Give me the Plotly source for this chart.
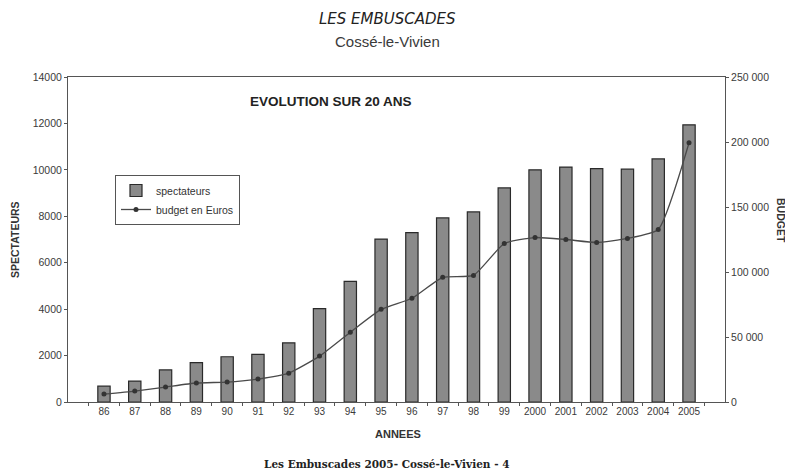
import plotly.graph_objects as go

annees = ["86", "87", "88", "89", "90", "91", "92", "93", "94", "95", "96", "97",
          "98", "99", "2000", "2001", "2002", "2003", "2004", "2005"]
spectateurs = [680, 900, 1380, 1700, 1950, 2050, 2550, 4020, 5200, 7020, 7300, 7930,
               8190, 9220, 10000, 10120, 10050, 10030, 10470, 11940]
budget = [6100, 8400, 11500, 14600, 15300, 17600, 22200, 35300, 53700, 71300, 79800,
          95900, 97400, 121900, 126500, 125000, 122700, 125800, 132700, 199400]

left_ticks = [0, 2000, 4000, 6000, 8000, 10000, 12000, 14000]
left_labels = ["0", "2000", "4000", "6000", "8000", "10000", "12000", "14000"]
right_ticks = [0, 50000, 100000, 150000, 200000, 250000]
right_labels = ["0", "50 000", "100 000", "150 000", "200 000", "250 000"]

SANS = "Liberation Sans, Arial, sans-serif"
axis_font = dict(family=SANS, size=10.5, color="#3a3a3a")

fig = go.Figure()
fig.add_trace(go.Bar(
    x=annees, y=spectateurs, name="spectateurs",
    marker=dict(color="#8a8a8a", line=dict(color="#2a2a2a", width=1.2)),
    yaxis="y",
))
fig.add_trace(go.Scatter(
    x=annees, y=budget, name="budget en Euros", mode="lines+markers",
    line=dict(color="#4a4a4a", width=1.3, shape="spline", smoothing=0.5),
    marker=dict(color="#333333", size=5),
    yaxis="y2",
))

# page body has an 8px margin: work in screen coords and offset
OFF = 8
W, H = 793 - OFF, 469 - OFF
L, T = 68 - OFF, 77 - OFF
R = 793 - 725
B = 469 - 402
PW, PH = W - L - R, H - T - B


def px(x):
    return (x - OFF - L) / PW


def py(y):
    return (H - B - (y - OFF)) / PH


fig.update_layout(
    width=W, height=H,
    margin=dict(l=L, r=R, t=T, b=B, autoexpand=False),
    paper_bgcolor="white", plot_bgcolor="white",
    bargap=0.6,
    showlegend=True,
    legend=dict(x=px(115), y=py(175), xanchor="left", yanchor="top",
                bgcolor="white", bordercolor="#555555", borderwidth=1,
                font=dict(family=SANS, size=10.5, color="#333333"),
                tracegroupgap=0, itemwidth=30),
    xaxis=dict(type="category", showline=True, linecolor="#555555", linewidth=1,
               mirror=True, ticks="outside", tickson="boundaries", ticklen=3,
               tickcolor="#555555", tickfont=dict(family=SANS, size=10, color="#3a3a3a"),
               tickangle=0, showgrid=False, automargin=False),
    yaxis=dict(range=[0, 14000], tickvals=left_ticks, ticktext=left_labels,
               showline=True, linecolor="#555555", linewidth=1, ticks="outside",
               ticklen=3, tickcolor="#555555", tickfont=axis_font, showgrid=False,
               zeroline=False, automargin=False),
    yaxis2=dict(range=[0, 250000], tickvals=right_ticks, ticktext=right_labels,
                overlaying="y", side="right", showline=True, linecolor="#555555",
                linewidth=1, ticks="outside", ticklen=3, tickcolor="#555555",
                tickfont=axis_font, showgrid=False, zeroline=False,
                automargin=False),
)


def label(text, x, y, size, family=SANS, color="#333333", angle=0):
    fig.add_annotation(text=text, xref="paper", yref="paper", x=px(x), y=py(y),
                       xanchor="center", yanchor="middle", showarrow=False,
                       textangle=angle, font=dict(family=family, size=size, color=color))


label("<i>LES EMBUSCADES</i>", 387, 19, 15, family="DejaVu Sans, sans-serif", color="#222222")
label("Cossé-le-Vivien", 387, 41, 15, color="#3a3a3a")
label("<b>EVOLUTION SUR 20 ANS</b>", 331, 101, 13.5, color="#222222")
label("<b>ANNEES</b>", 398, 434, 11)
label("<b>SPECTATEURS</b>", 15, 240, 10.5, angle=-90)
label("<b>BUDGET</b>", 781, 220, 10.5, angle=90)
label("<b>Les Embuscades 2005- Cossé-le-Vivien - 4</b>", 386, 464, 10.5,
      family="DejaVu Serif, serif", color="#222222")

fig.write_html("out.html")
